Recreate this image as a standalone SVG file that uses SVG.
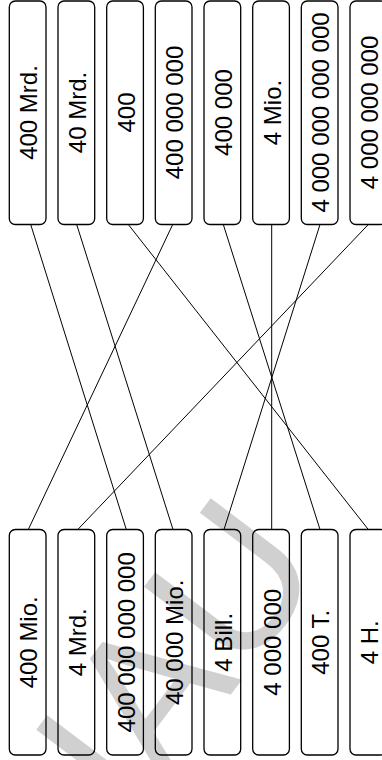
<svg xmlns="http://www.w3.org/2000/svg" width="382" height="760" viewBox="0 0 382 760">
<style>
.box{fill:none;stroke:#000;stroke-width:1.3}
.lbl{font-family:"Liberation Sans",Arial,sans-serif;font-size:24px;fill:#000;text-anchor:middle}
.wm{font-family:"Liberation Sans",Arial,sans-serif;font-size:195px;fill:#d0d0d0}
#connectors line{stroke:#000;stroke-width:1}
</style>
<rect width="382" height="760" fill="#fff"/>
<g id="watermark"><text class="wm" text-anchor="end" transform="translate(327,567) rotate(-53)">VORSCHAU</text></g>
<g id="connectors">
<line x1="30.7" y1="224.5" x2="126.3" y2="529.5"/>
<line x1="76.7" y1="224.5" x2="173" y2="529.5"/>
<line x1="128.3" y1="224.5" x2="368.3" y2="529.5"/>
<line x1="172.7" y1="224.5" x2="28.3" y2="529.5"/>
<line x1="223.3" y1="224.5" x2="320" y2="529.5"/>
<line x1="271.7" y1="224.5" x2="271.7" y2="529.5"/>
<line x1="320" y1="224.5" x2="224" y2="529.5"/>
<line x1="368.3" y1="224.5" x2="77.8" y2="529.5"/>
</g>
<g id="t1"><rect class="box" x="9.3" y="1" width="36.7" height="223.5" rx="6"/><text class="lbl" transform="translate(37.2,112.5) rotate(-90)">400 Mrd.</text></g>
<g id="t2"><rect class="box" x="58" y="1" width="36.7" height="223.5" rx="6"/><text class="lbl" transform="translate(85.9,112.5) rotate(-90)">40 Mrd.</text></g>
<g id="t3"><rect class="box" x="106.7" y="1" width="36.7" height="223.5" rx="6"/><text class="lbl" transform="translate(134.5,112.5) rotate(-90)">400</text></g>
<g id="t4"><rect class="box" x="155.3" y="1" width="36.7" height="223.5" rx="6"/><text class="lbl" transform="translate(183.2,112.5) rotate(-90)">400 000 000</text></g>
<g id="t5"><rect class="box" x="204" y="1" width="36.7" height="223.5" rx="6"/><text class="lbl" transform="translate(231.8,112.5) rotate(-90)">400 000</text></g>
<g id="t6"><rect class="box" x="252.7" y="1" width="36.7" height="223.5" rx="6"/><text class="lbl" transform="translate(280.5,112.5) rotate(-90)">4 Mio.</text></g>
<g id="t7"><rect class="box" x="301.3" y="1" width="36.7" height="223.5" rx="6"/><text class="lbl" transform="translate(329.2,112.5) rotate(-90)">4 000 000 000 000</text></g>
<g id="t8"><rect class="box" x="350" y="1" width="36.7" height="223.5" rx="6"/><text class="lbl" transform="translate(377.8,112.5) rotate(-90)">4 000 000 000</text></g>
<g id="b1"><rect class="box" x="9.3" y="529.5" width="36.7" height="225.5" rx="6"/><text class="lbl" transform="translate(37.2,642.3) rotate(-90)">400 Mio.</text></g>
<g id="b2"><rect class="box" x="58" y="529.5" width="36.7" height="225.5" rx="6"/><text class="lbl" transform="translate(85.9,642.3) rotate(-90)">4 Mrd.</text></g>
<g id="b3"><rect class="box" x="106.7" y="529.5" width="36.7" height="225.5" rx="6"/><text class="lbl" transform="translate(134.5,642.3) rotate(-90)">400 000 000 000</text></g>
<g id="b4"><rect class="box" x="155.3" y="529.5" width="36.7" height="225.5" rx="6"/><text class="lbl" transform="translate(183.2,642.3) rotate(-90)">40 000 Mio.</text></g>
<g id="b5"><rect class="box" x="204" y="529.5" width="36.7" height="225.5" rx="6"/><text class="lbl" transform="translate(231.8,642.3) rotate(-90)">4 Bill.</text></g>
<g id="b6"><rect class="box" x="252.7" y="529.5" width="36.7" height="225.5" rx="6"/><text class="lbl" transform="translate(280.5,642.3) rotate(-90)">4 000 000</text></g>
<g id="b7"><rect class="box" x="301.3" y="529.5" width="36.7" height="225.5" rx="6"/><text class="lbl" transform="translate(329.2,642.3) rotate(-90)">400 T.</text></g>
<g id="b8"><rect class="box" x="350" y="529.5" width="36.7" height="225.5" rx="6"/><text class="lbl" transform="translate(377.8,642.3) rotate(-90)">4 H.</text></g>
</svg>
